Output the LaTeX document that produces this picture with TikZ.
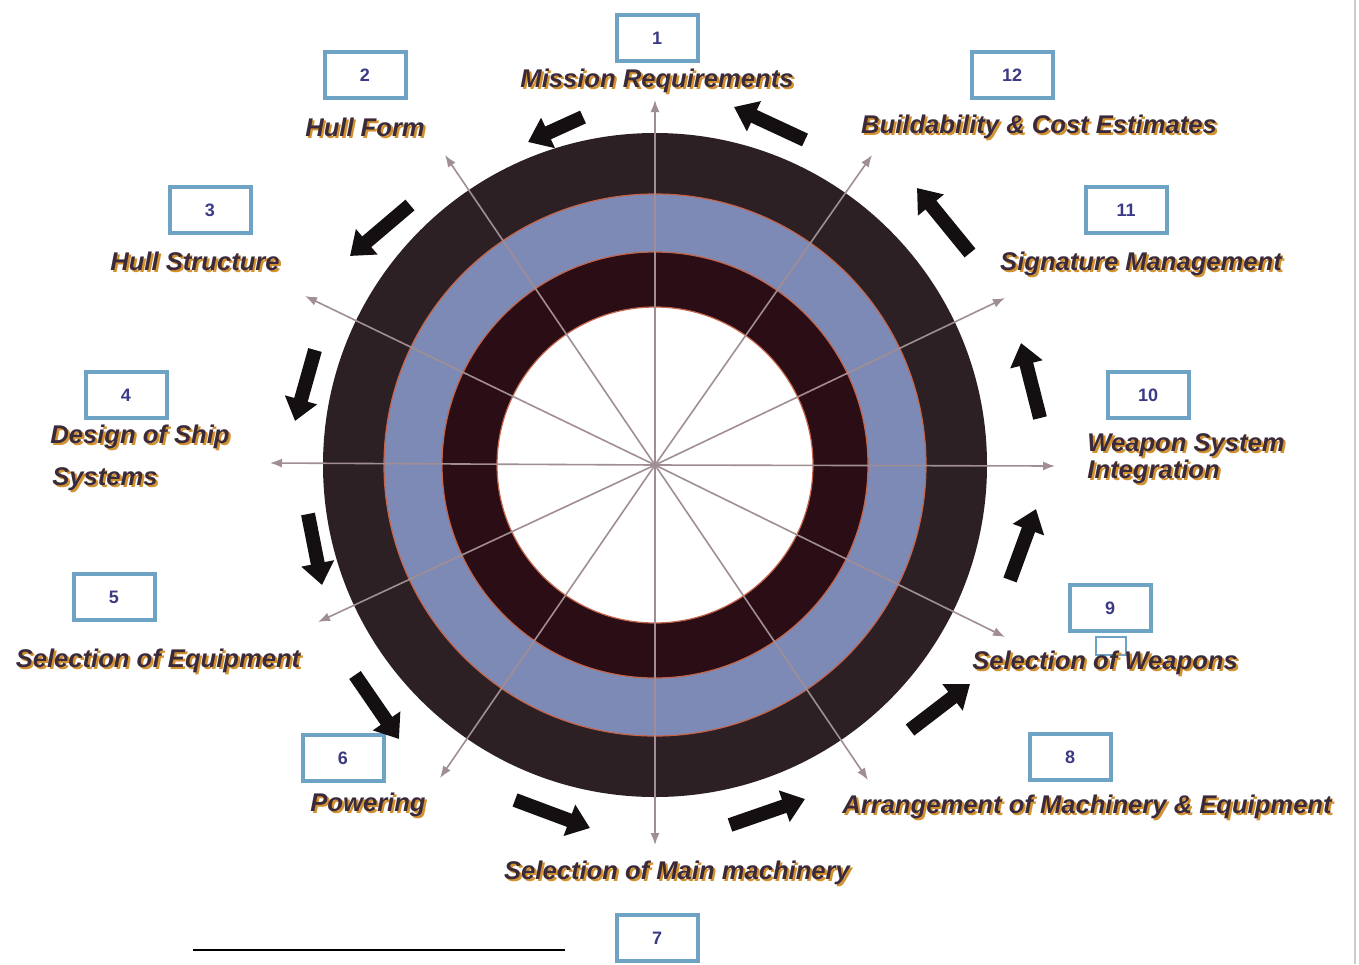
\documentclass[tikz,border=0pt]{standalone}
\usepackage{fontspec}
\setmainfont{Liberation Sans}
\usetikzlibrary{arrows.meta}
\definecolor{ringdark}{HTML}{2C2024}
\definecolor{ringblue}{HTML}{7E8AB6}
\definecolor{ringmaroon}{HTML}{2A0D15}
\definecolor{ringedge}{HTML}{C4644A}
\definecolor{spokec}{HTML}{A08E92}
\definecolor{boxc}{HTML}{6FA3C6}
\definecolor{numc}{HTML}{3C3A86}
\definecolor{labc}{HTML}{3B2A3A}
\definecolor{shadowc}{HTML}{D4922E}
\definecolor{blockc}{HTML}{141012}
\newcommand\shtx[1]{\rlap{\kern1.1pt\raisebox{-1.1pt}{\textcolor{shadowc}{#1}}}#1}
\tikzset{
  numbox/.style={draw=boxc, line width=2pt, fill=white, minimum width=40.5pt,
    minimum height=23pt, inner sep=0pt, text=numc,
    font=\fontsize{9}{10}\selectfont\bfseries},
  lab/.style={inner sep=0pt, text=labc,
    font=\fontsize{12.8}{14}\selectfont\bfseries\itshape},
  spoke/.style={draw=spokec, line width=0.8pt, -{Latex[length=6pt,width=4.5pt]}},
  blockarrow/.style={draw=blockc, line width=7pt, -{Triangle[length=11pt,width=16pt]}},
}
\begin{document}
\begin{tikzpicture}[x=0.5pt,y=-0.5pt]
\useasboundingbox (0,0) rectangle (1359,964);
\fill[white] (0,0) rectangle (1359,964);
\draw[gray!40, line width=0.6pt] (1355,0) -- (1355,964);

% rings
\coordinate (C) at (655,465);
\fill[ringdark] (C) circle[radius=166pt];
\fill[ringblue] (C) circle[radius=135.5pt];
\draw[ringedge, line width=0.6pt] (C) circle[radius=135.5pt];
\fill[ringmaroon] (C) circle[radius=106.5pt];
\draw[ringedge, line width=0.6pt] (C) circle[radius=106.5pt];
\fill[white] (C) circle[radius=79pt];
\draw[ringedge, line width=0.6pt] (C) circle[radius=79pt];

% spoke ends
\coordinate (e1) at (655,100);
\coordinate (e12) at (872,155);
\coordinate (e11) at (1005,298);
\coordinate (e10) at (1055,466);
\coordinate (e9) at (1005,637);
\coordinate (e8) at (868,780);
\coordinate (e7) at (655,845);
\coordinate (e6) at (440,778);
\coordinate (e5) at (318,622);
\coordinate (e4) at (270,463);
\coordinate (e3) at (305,296);
\coordinate (e2) at (445,155);
\foreach \i in {1,...,12} \draw[spoke] (C) -- (e\i);

% numbered boxes
\node[numbox] (b1) at (657,38) {1};
\node[numbox] (b2) at (365,75) {2};
\node[numbox] (b3) at (210,210) {3};
\node[numbox] (b4) at (126,395) {4};
\node[numbox] (b5) at (114,597) {5};
\node[numbox] (b6) at (343,758) {6};
\node[numbox] (b7) at (657,938) {7};
\node[numbox] (b8) at (1070,757) {8};
\node[numbox] (b9) at (1110,608) {9};
\node[draw=boxc, line width=1pt, fill=white, minimum width=15pt, minimum height=9pt, inner sep=0pt, anchor=north] (b9s) at (1111,636) {};
\node[numbox] (b10) at (1148,395) {10};
\node[numbox] (b11) at (1126,210) {11};
\node[numbox] (b12) at (1012,75) {12};

% labels
\node[lab] (l1) at (657,82) {\shtx{Mission Requirements}};
\node[lab] (l2) at (365,128) {\shtx{Hull Form}};
\node[lab] (l3) at (195,262) {\shtx{Hull Structure}};
\node[lab, anchor=west] (l4a) at (50,438) {\shtx{Design of Ship}};
\node[lab, anchor=west] (l4b) at (52,480) {\shtx{Systems}};
\node[lab] (l5) at (158,662) {\shtx{Selection of Equipment}};
\node[lab] (l6) at (368,806) {\shtx{Powering}};
\node[lab] (l7) at (677,874) {\shtx{Selection of Main machinery}};
\node[lab] (l8) at (1087,808) {\shtx{Arrangement of Machinery \& Equipment}};
\node[lab] (l9) at (1105,664) {\shtx{Selection of Weapons}};
\node[lab, anchor=west] (l10a) at (1087,446) {\shtx{Weapon System}};
\node[lab, anchor=west] (l10b) at (1087,473) {\shtx{Integration}};
\node[lab] (l11) at (1141,265) {\shtx{Signature Management}};
\node[lab] (l12) at (1039,128) {\shtx{Buildability \& Cost Estimates}};

% block arrows (counter-clockwise flow)
\coordinate (t1) at (583,117);  \coordinate (h1) at (528,142);
\coordinate (t2) at (410,205);  \coordinate (h2) at (350,256);
\coordinate (t3) at (315,350);  \coordinate (h3) at (295,421);
\coordinate (t4) at (308,514);  \coordinate (h4) at (322,585);
\coordinate (t5) at (355,675);  \coordinate (h5) at (399,739);
\coordinate (t6) at (515,800);  \coordinate (h6) at (590,828);
\coordinate (t7) at (730,825);  \coordinate (h7) at (805,799);
\coordinate (t8) at (910,730);  \coordinate (h8) at (970,684);
\coordinate (t9) at (1010,580); \coordinate (h9) at (1036,509);
\coordinate (t10) at (1040,418); \coordinate (h10) at (1021,343);
\coordinate (t11) at (970,253); \coordinate (h11) at (917,188);
\coordinate (t12) at (805,140); \coordinate (h12) at (734,107);
\foreach \i in {1,...,12} \draw[blockarrow] (t\i) -- (h\i);

% bottom rule
\coordinate (r1) at (193,950);
\coordinate (r2) at (565,950);
\draw[black, line width=1pt] (r1) -- (r2);
\end{tikzpicture}
\end{document}
